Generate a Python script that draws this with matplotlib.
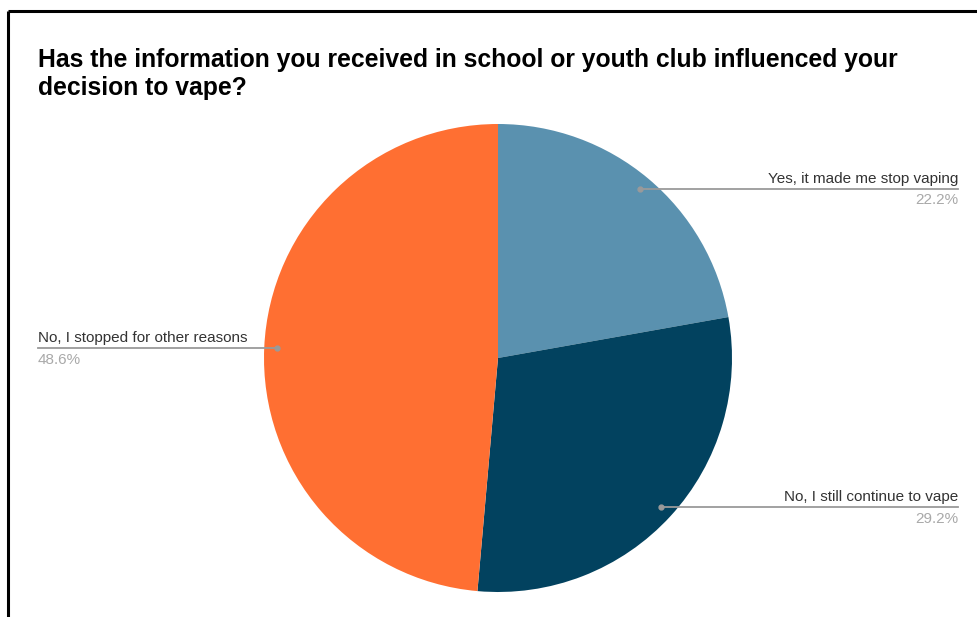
import numpy as np
import matplotlib
matplotlib.use("Agg")
import matplotlib.pyplot as plt

plt.rcParams["font.family"] = ["Liberation Sans", "DejaVu Sans"]

title_lines = ["Has the information you received in school or youth club influenced your",
               "decision to vape?"]
categories = ["Yes, it made me stop vaping", "No, I still continue to vape",
              "No, I stopped for other reasons"]
values = [22.2, 29.2, 48.6]
colors = ["#5a91af", "#02425f", "#ff6f32"]

W, H = 978, 617
fig = plt.figure(figsize=(W / 100, H / 100), dpi=100)
ax = fig.add_axes([0, 0, 1, 1])

# frame lines (top and left)
ax.plot([7.5, W], [H - 10.5, H - 10.5], color="black", lw=2.2, solid_capstyle="butt")
ax.plot([7.5, 7.5], [H - 10.5, 0], color="black", lw=2.2, solid_capstyle="butt")

center = (498, H - 358)
radius = 234
wedges, _ = ax.pie(values, colors=colors, startangle=90, counterclock=False,
                   center=center, radius=radius, frame=True,
                   wedgeprops=dict(linewidth=0))
ax.set_xlim(0, W)
ax.set_ylim(0, H)
ax.set_aspect("equal")
ax.axis("off")

for i, line in enumerate(title_lines):
    ax.text(38, H - 67 - 27.5 * i, line, fontsize=17.85, fontweight="bold",
            color="#000000", va="baseline", ha="left")

# leader lines and labels at each wedge's mid angle
right_end = 958
left_start = 38
for w, cat, v in zip(wedges, categories, values):
    mid = np.deg2rad((w.theta1 + w.theta2) / 2)
    dx, dy = np.cos(mid), np.sin(mid)
    px = center[0] + 0.945 * radius * dx
    py = center[1] + 0.945 * radius * dy
    ax.plot(px, py, "o", color="#9a9a9a", ms=3.5, zorder=5)
    if dx >= 0:
        x0, x1, tx, ha = px, right_end, right_end, "right"
    else:
        x0, x1, tx, ha = left_start, px, left_start, "left"
    ax.plot([x0, x1], [py, py], color="#9a9a9a", lw=1.3, zorder=4)
    ax.text(tx, py + 6, cat, ha=ha, va="baseline", fontsize=11, color="#333333")
    ax.text(tx, py - 15.5, f"{v:.1f}%", ha=ha, va="baseline", fontsize=11,
            color="#a9a9a9")

fig.savefig("out.png", dpi=100, facecolor="white")
